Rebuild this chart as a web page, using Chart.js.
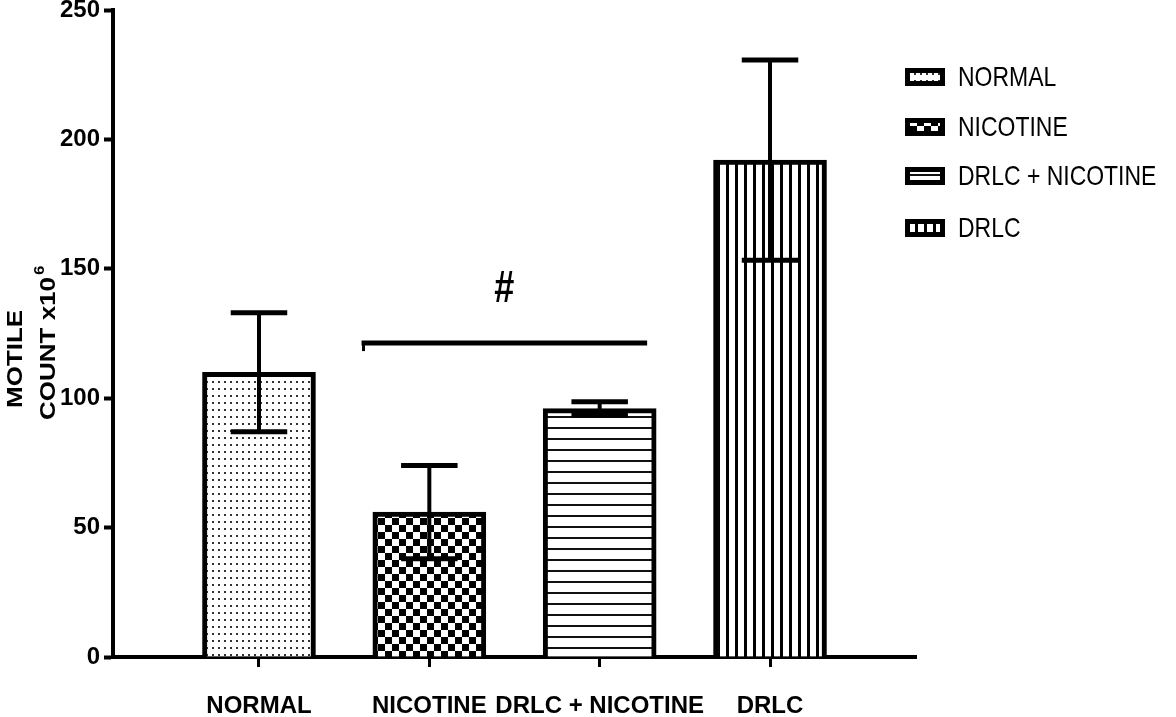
<!DOCTYPE html>
<html>
<head>
<meta charset="utf-8">
<script src="https://cdn.jsdelivr.net/npm/chart.js@4.4.1/dist/chart.umd.min.js"></script>
<style>
  html, body { margin: 0; padding: 0; background: #fff; }
  #wrap { width: 1176px; height: 717px; position: relative; }
</style>
</head>
<body>
<div id="wrap"><canvas id="c" width="1176" height="717"></canvas></div>
<script>
// ---- data ----
const categories = ['NORMAL', 'NICOTINE', 'DRLC + NICOTINE', 'DRLC'];
const means = [110, 56, 96, 192];
const errors = [23, 18, 2.6, 38.7];
const yTicks = [0, 50, 100, 150, 200, 250];
const yTitle = ['MOTILE', 'COUNT x10', '6'];
const sigGroups = ['NICOTINE', 'DRLC + NICOTINE'];
const sigLevel = 121.3;
const sigMark = '#';

// ---- patterns ----
function makePattern(kind) {
  const t = document.createElement('canvas');
  let g;
  if (kind === 'dots') {
    t.width = 6; t.height = 7; g = t.getContext('2d');
    g.fillStyle = '#fff'; g.fillRect(0, 0, 6, 7);
    g.fillStyle = '#333'; g.fillRect(2, 3, 2, 2);
  } else if (kind === 'checker') {
    t.width = 14; t.height = 14; g = t.getContext('2d');
    g.fillStyle = '#fff'; g.fillRect(0, 0, 14, 14);
    g.fillStyle = '#000'; g.fillRect(0, 0, 7, 7); g.fillRect(7, 7, 7, 7);
  } else if (kind === 'hlines') {
    t.width = 8; t.height = 11; g = t.getContext('2d');
    g.fillStyle = '#fff'; g.fillRect(0, 0, 8, 11);
    g.fillStyle = '#111'; g.fillRect(0, 9, 8, 2);
  } else {
    t.width = 9; t.height = 8; g = t.getContext('2d');
    g.fillStyle = '#fff'; g.fillRect(0, 0, 9, 8);
    g.fillStyle = '#000'; g.fillRect(6, 0, 3, 8);
  }
  return document.getElementById('c').getContext('2d').createPattern(t, 'repeat');
}
const patterns = [makePattern('dots'), makePattern('checker'), makePattern('hlines'), makePattern('vlines')];

const SANS = '"Liberation Sans", Arial, sans-serif';
const SQUISH = 0.82;

const overlay = {
  id: 'overlay',
  afterDatasetsDraw(chart) {
    const ctx = chart.ctx;
    const xs = chart.scales.x, ys = chart.scales.y;
    const meta = chart.getDatasetMeta(0);
    ctx.save();
    ctx.strokeStyle = '#000';
    ctx.fillStyle = '#000';
    // error bars
    means.forEach((m, i) => {
      const bar = meta.data[i];
      const x = xs.getPixelForValue(i);
      const yt = ys.getPixelForValue(m + errors[i]);
      const yb = ys.getPixelForValue(m - errors[i]);
      const half = bar.width / 4;
      ctx.lineWidth = 4;
      ctx.beginPath(); ctx.moveTo(x, yt); ctx.lineTo(x, yb); ctx.stroke();
      ctx.lineWidth = 5;
      ctx.beginPath(); ctx.moveTo(x - half, yt); ctx.lineTo(x + half, yt); ctx.stroke();
      ctx.beginPath(); ctx.moveTo(x - half, yb); ctx.lineTo(x + half, yb); ctx.stroke();
    });
    // significance line
    const i0 = categories.indexOf(sigGroups[0]);
    const i1 = categories.indexOf(sigGroups[1]);
    const bw = meta.data[i0].width;
    const x0 = xs.getPixelForValue(i0) - bw * 0.6;
    const x1 = xs.getPixelForValue(i1) + bw * 0.42;
    const ySig = ys.getPixelForValue(sigLevel);
    ctx.lineWidth = 5;
    ctx.beginPath(); ctx.moveTo(x0, ySig); ctx.lineTo(x1, ySig); ctx.stroke();
    ctx.lineWidth = 3;
    ctx.beginPath(); ctx.moveTo(x0 + 2, ySig); ctx.lineTo(x0 + 2, ySig + 8); ctx.stroke();
    ctx.save();
    ctx.translate((x0 + x1) / 2, ySig - 41);
    ctx.scale(SQUISH, 1);
    ctx.font = 'bold 44px ' + SANS;
    ctx.textAlign = 'center';
    ctx.textBaseline = 'alphabetic';
    ctx.fillText(sigMark, 0, 0);
    ctx.restore();
    ctx.restore();
  },
  afterDraw(chart) {
    const ctx = chart.ctx;
    ctx.save();
    ctx.fillStyle = '#000';
    // y title (rotated, two lines)
    ctx.font = 'bold 26px ' + SANS;
    ctx.textBaseline = 'middle';
    ctx.textAlign = 'left';
    ctx.save();
    ctx.translate(16, 408);
    ctx.rotate(-Math.PI / 2);
    ctx.scale(1, SQUISH);
    ctx.fillText(yTitle[0], 0, 0);
    ctx.restore();
    ctx.save();
    ctx.translate(49, 420);
    ctx.rotate(-Math.PI / 2);
    ctx.scale(1, SQUISH);
    ctx.font = 'bold 26px ' + SANS;
    const w1 = ctx.measureText(yTitle[1]).width;
    ctx.fillText(yTitle[1], 0, 0);
    ctx.font = 'bold 17px ' + SANS;
    ctx.fillText(yTitle[2], w1 + 2, -11);
    ctx.restore();
    // legend
    const rows = [77, 127, 176, 228];
    categories.forEach((c, i) => {
      const y = rows[i];
      ctx.fillStyle = '#000';
      ctx.fillRect(905, y - 9, 40, 18);
      ctx.fillStyle = patterns[i];
      ctx.fillRect(910, y - 4, 30, 8);
      ctx.save();
      ctx.translate(958, y + 1);
      ctx.scale(SQUISH, 1);
      ctx.fillStyle = '#000';
      ctx.font = '28px ' + SANS;
      ctx.textAlign = 'left';
      ctx.textBaseline = 'middle';
      ctx.fillText(c, 0, 0);
      ctx.restore();
    });
    ctx.restore();
  }
};

new Chart(document.getElementById('c'), {
  type: 'bar',
  data: {
    datasets: [{
      data: categories.map((c, i) => ({ x: i, y: means[i] })),
      backgroundColor: patterns,
      borderColor: '#000',
      borderWidth: { top: 5, left: 5, right: 5, bottom: 0 },
      borderSkipped: 'bottom',
      barThickness: 113
    }]
  },
  options: {
    responsive: false,
    animation: false,
    events: [],
    layout: { padding: { top: 10, right: 260, left: 0, bottom: 0 } },
    plugins: { legend: { display: false }, tooltip: { enabled: false } },
    scales: {
      x: {
        type: 'linear',
        offset: false,
        min: -0.857,
        max: 3.857,
        afterBuildTicks: (s) => { s.ticks = categories.map((c, i) => ({ value: i })); },
        afterFit: (s) => { s.height = 60; s.paddingLeft = 0; s.paddingRight = 0; },
        ticks: {
          callback: (v) => categories[v],
          font: { family: SANS, size: 24, weight: 'bold' },
          color: '#000',
          padding: 25,
          maxRotation: 0,
          autoSkip: false
        },
        grid: { offset: false, drawOnChartArea: false, drawTicks: true, tickLength: 10, tickWidth: 3, tickColor: '#000' },
        border: { display: true, color: '#000', width: 4 }
      },
      y: {
        min: 0,
        max: 250,
        afterBuildTicks: (s) => { s.ticks = yTicks.map(v => ({ value: v })); },
        afterFit: (s) => { s.width = 113; s.paddingTop = 0; s.paddingBottom = 0; },
        ticks: {
          font: { family: SANS, size: 24, weight: 'bold' },
          color: '#000',
          padding: 4
        },
        grid: { drawOnChartArea: false, drawTicks: true, tickLength: 9, tickWidth: 4, tickColor: '#000' },
        border: { display: true, color: '#000', width: 4 }
      }
    }
  },
  plugins: [overlay]
});
</script>
</body>
</html>
